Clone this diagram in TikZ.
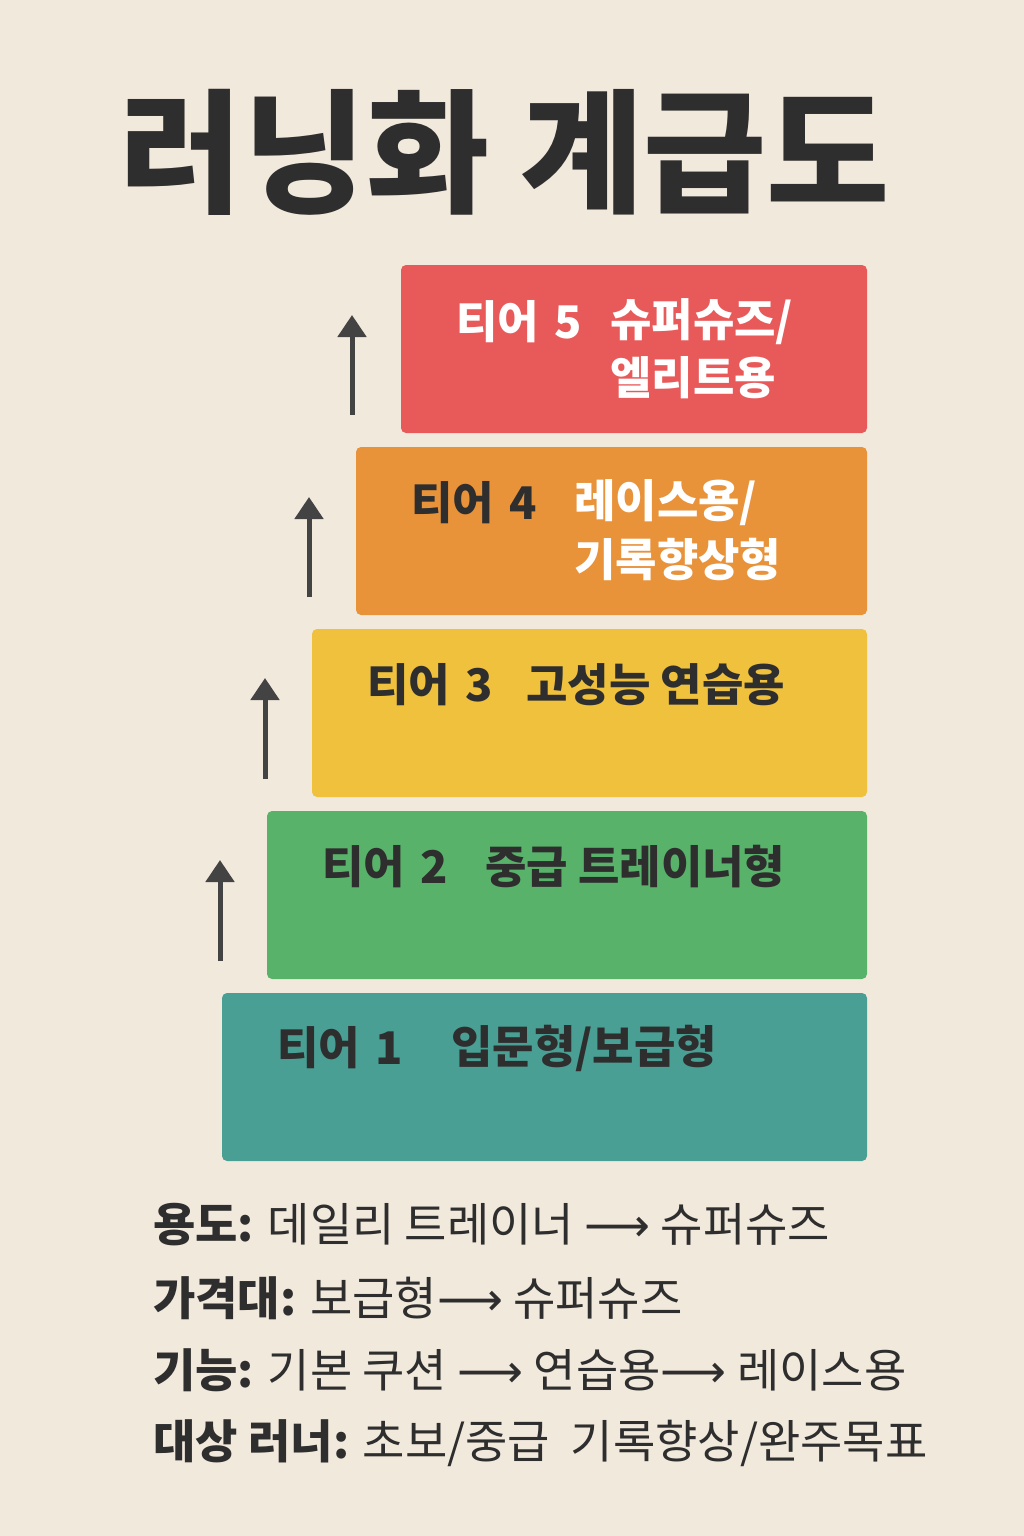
\documentclass[tikz,border=0pt]{standalone}
\usepackage{fontspec}
\setmainfont{Noto Sans CJK KR}
\newfontfamily\dv{DejaVu Sans}
\usetikzlibrary{arrows.meta}
\definecolor{bg}{HTML}{F2E9DD}
\definecolor{ink}{HTML}{2E2E2E}
\definecolor{tred}{HTML}{E85A5A}
\definecolor{tora}{HTML}{E8923A}
\definecolor{tyel}{HTML}{EFC13C}
\definecolor{tgre}{HTML}{58B26A}
\definecolor{ttea}{HTML}{499F94}
\tikzset{
 tier/.style={rounded corners=5pt, inner sep=0pt},
 lab/.style={anchor=west, inner sep=0pt, font=\fontsize{45}{50}\selectfont\bfseries},
 upar/.style={line width=5pt, draw=ink!90, -{Triangle[length=22pt,width=28pt]}},
 foot/.style={anchor=west, inner sep=0pt, text=ink, font=\fontsize{46}{52}\selectfont},
}
\newcommand{\lar}{{\dv ⟶}}
\begin{document}
\begin{tikzpicture}[x=1pt,y=-1pt]
\fill[bg] (0,0) rectangle (1024,1536);
\useasboundingbox (0,0) rectangle (1024,1536);
\node[text=ink, font=\fontsize{134}{140}\selectfont\bfseries] (title) at (505,152) {러닝화 계급도};
% boxes
\fill[tred,tier] (401,265) rectangle (867,433);
\fill[tora,tier] (356,447) rectangle (867,615);
\fill[tyel,tier] (312,629) rectangle (867,797);
\fill[tgre,tier] (267,811) rectangle (867,979);
\fill[ttea,tier] (222,993) rectangle (867,1161);
% tier 5
\node[lab,text=white] (t5) at (456,322) {티어\hspace{0.35em}5};
\node[lab,text=white] (t5a) at (610,322) {슈퍼슈즈/};
\node[lab,text=white] (t5b) at (610,378) {엘리트용};
% tier 4
\node[lab,text=ink] (t4) at (411,503) {티어\hspace{0.35em}4};
\node[lab,text=white] (t4a) at (574,503) {레이스용/};
\node[lab,text=white] (t4b) at (574,560) {기록향상형};
% tier 3
\node[lab,text=ink] (t3) at (367,685) {티어\hspace{0.35em}3};
\node[lab,text=ink] (t3a) at (526,685) {고성능 연습용};
% tier 2
\node[lab,text=ink] (t2) at (322,867) {티어\hspace{0.35em}2};
\node[lab,text=ink] (t2a) at (485,867) {중급 트레이너형};
% tier 1
\node[lab,text=ink] (t1) at (277,1048) {티어\hspace{0.35em}1};
\node[lab,text=ink] (t1a) at (451,1048) {입문형/보급형};
% arrows
\coordinate (a5s) at (352,415); \coordinate (a5e) at (352,315);
\coordinate (a4s) at (309,597); \coordinate (a4e) at (309,497);
\coordinate (a3s) at (265,779); \coordinate (a3e) at (265,678);
\coordinate (a2s) at (220,961); \coordinate (a2e) at (220,860);
\draw[upar] (a5s) -- (a5e);
\draw[upar] (a4s) -- (a4e);
\draw[upar] (a3s) -- (a3e);
\draw[upar] (a2s) -- (a2e);
% footer
\node[foot] (f1) at (153,1225) {\textbf{용도:} 데일리 트레이너 \lar\ 슈퍼슈즈};
\node[foot] (f2) at (153,1298) {\textbf{가격대:} 보급형\lar\ 슈퍼슈즈};
\node[foot] (f3) at (153,1370) {\textbf{기능:} 기본 쿠션 \lar\ 연습용\lar\ 레이스용};
\node[foot] (f4) at (153,1443) {\textbf{대상 러너:} 초보/중급\ \ 기록향상/완주목표};
\end{tikzpicture}
\end{document}
